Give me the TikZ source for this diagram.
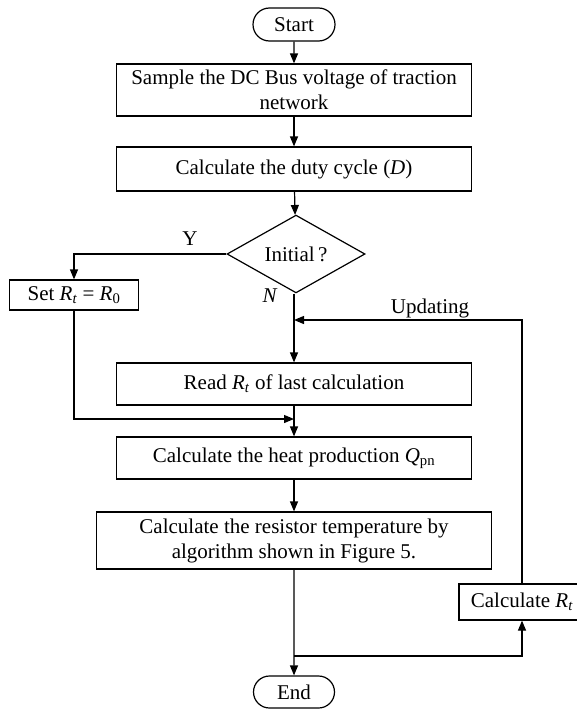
\documentclass[tikz,border=0pt]{standalone}
\usepackage{fontspec}
\setmainfont{Liberation Serif}
\usetikzlibrary{positioning,arrows.meta,shapes.geometric,shapes.misc}
\newcommand{\Rt}{\textit{R}\textsubscript{\textit{t}}}
\tikzset{
  term/.style={rounded rectangle, draw, line width=1.2pt, minimum width=82pt,
               minimum height=33pt, inner sep=0pt},
  proc/.style={draw, line width=1.2pt, minimum width=355pt, align=center, inner sep=0pt},
  cond/.style={diamond, draw, line width=1.2pt, minimum width=138pt, minimum height=64pt,
               inner sep=0pt},
  flow/.style={-{Triangle[length=10pt,width=8pt]}, line width=1.2pt},
  lbl/.style={inner sep=0pt}
}

\begin{document}
\begin{tikzpicture}[x=1pt, y=-1pt, font=\fontsize{21}{25}\selectfont]
    \useasboundingbox (0,0) rectangle (577,709);
    \node[term] (start) at (294,24.5) {Start};
    \node[proc, minimum height=52pt] (sample) at (294,90) {Sample the DC Bus voltage of traction\\network};
    \node[proc, minimum height=44pt] (duty) at (294,169) {Calculate the duty cycle (\textit{D})};
    \node[cond] (init) at (296,254) {Initial\,?};
    \node[proc, minimum width=129pt, minimum height=30pt] (setr) at (74,295) {Set \Rt{} = \textit{R}\textsubscript{0}};
    \node[proc, minimum height=42pt] (read) at (294,384) {Read \Rt{} of last calculation};
    \node[proc, minimum height=42pt] (heat) at (294,458) {Calculate the heat production \textit{Q}\textsubscript{pn}};
    \node[proc, minimum width=395pt, minimum height=57pt] (temp) at (294,540.5) {Calculate the resistor temperature by\\algorithm shown in Figure 5.};
    \node[proc, minimum width=126pt, minimum height=36pt] (calcr) at (522,602) {Calculate \Rt};
    \node[term, minimum width=81pt, minimum height=32pt] (end) at (294,692) {End};
    \coordinate (merge) at (294,320);
    \coordinate (join) at (294,419);
    \coordinate (split) at (294,656);
    % main line
    \draw[flow] (start) -- (sample);
    \draw[flow] (sample) -- (duty);
    \draw[flow] (duty) -- (init);
    \draw[flow] (init.south -| read.north) -- (read);
    \draw[flow] (read) -- (heat);
    \draw[flow] (heat) -- (temp);
    \draw[flow] (temp) -- (end);
    % branches
    \draw[flow] (init.west) -| (setr.north);
    \draw[flow] (setr.south) |- (join);
    \draw[flow] (split) -| (calcr.south);
    \draw[flow] (calcr.north) |- (merge);
    \node[lbl] (yes) at (190,239) {Y};
    \node[lbl] (no) at (270,296) {\textit{N}};
    \node[lbl] (upd) at (430,308) {Updating};
\end{tikzpicture}
\end{document}
